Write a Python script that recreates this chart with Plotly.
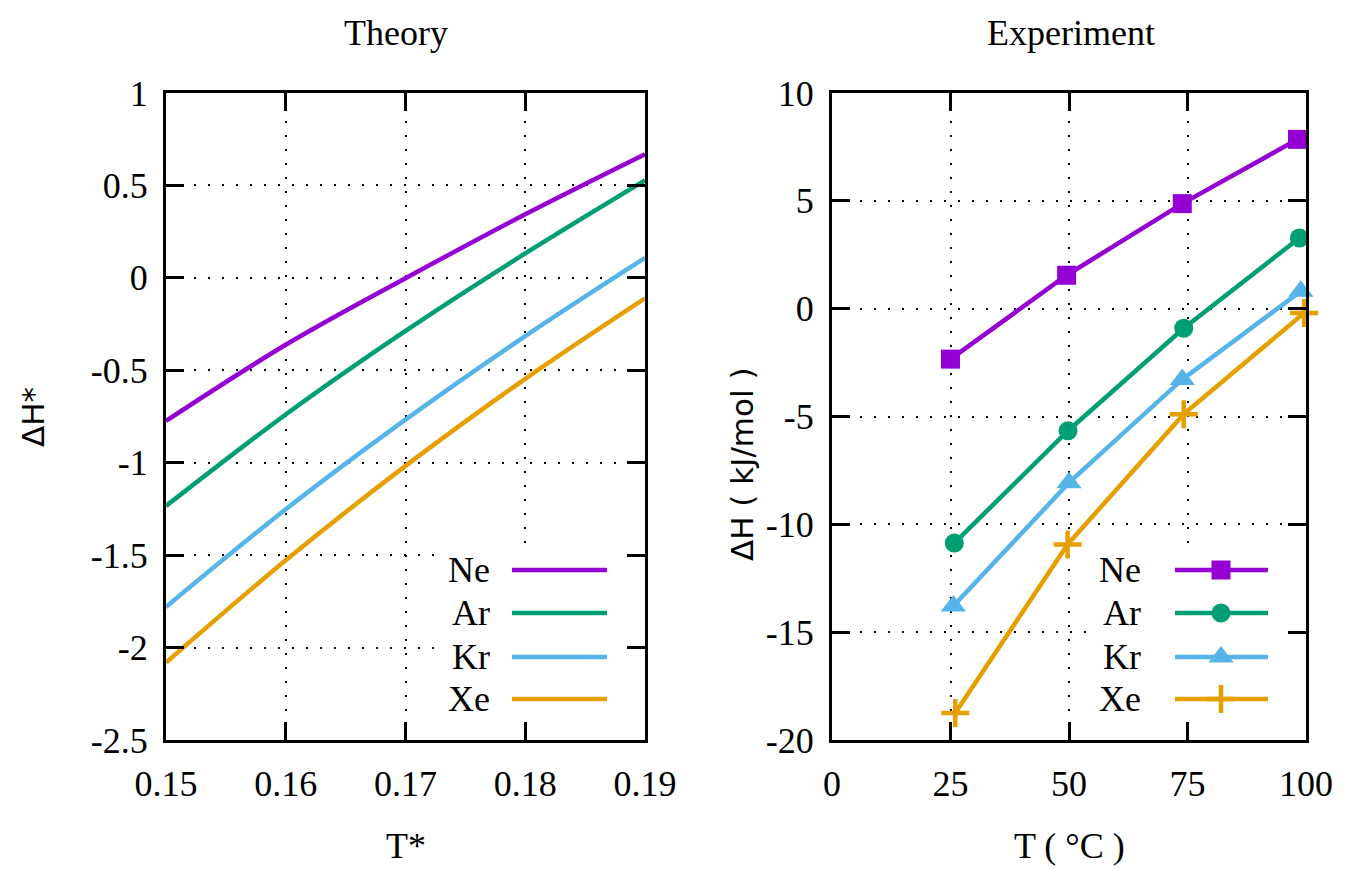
import plotly.graph_objects as go

# ---------------- data ----------------
species = ["Ne", "Ar", "Kr", "Xe"]
colors = ["#9400d3", "#009e73", "#56b4e9", "#e69f00"]
symbols = ["square", "circle", "triangle-up", "cross-thin"]
msizes = [19, 19, 22, 20]

# Theory panel
t_star = [0.15, 0.16, 0.17, 0.18, 0.19]
theory_ne = [-0.774, -0.362, -0.002, 0.344, 0.669]
theory_ar = [-1.234, -0.739, -0.287, 0.132, 0.527]
theory_kr = [-1.780, -1.252, -0.767, -0.315, 0.108]
theory_xe = [-2.081, -1.528, -1.017, -0.546, -0.111]
theory = [theory_ne, theory_ar, theory_kr, theory_xe]

# Experiment panel
exp_t_ne = [25.0, 49.5, 73.9, 98.2]
exp_t_ar = [25.8, 49.8, 74.2, 98.6]
exp_t_kr = [25.6, 50.0, 73.9, 98.9]
exp_t_xe = [26.0, 49.7, 74.2, 99.6]
exp_h_ne = [-2.34, 1.55, 4.87, 7.85]
exp_h_ar = [-10.87, -5.66, -0.91, 3.28]
exp_h_kr = [-13.79, -8.07, -3.28, 0.81]
exp_h_xe = [-18.75, -10.93, -4.89, -0.20]
exp_t = [exp_t_ne, exp_t_ar, exp_t_kr, exp_t_xe]
exp_h = [exp_h_ne, exp_h_ar, exp_h_kr, exp_h_xe]

# ticks
left_xticks = [0.15, 0.16, 0.17, 0.18, 0.19]
left_xlabels = ["0.15", "0.16", "0.17", "0.18", "0.19"]
left_yticks = [-2.5, -2, -1.5, -1, -0.5, 0, 0.5, 1]
left_ylabels = ["-2.5", "-2", "-1.5", "-1", "-0.5", "0", "0.5", "1"]
right_xticks = [0, 25, 50, 75, 100]
right_xlabels = ["0", "25", "50", "75", "100"]
right_yticks = [-20, -15, -10, -5, 0, 5, 10]
right_ylabels = ["-20", "-15", "-10", "-5", "0", "5", "10"]

# ---------------- layout geometry (window pixels) ----------------
OFF = 8                      # page body margin
WIN_W, WIN_H = 1345, 869
FW, FH = WIN_W - OFF, WIN_H - OFF
L_X0, L_X1 = 166, 645
R_X0, R_X1 = 832, 1306
Y_TOP, Y_BOT = 93, 740

def px(x):
    return (x - OFF) / FW

def py(y):
    return 1 - (y - OFF) / FH

SERIF = "Liberation Serif"
SANS = "DejaVu Sans"
FS = 36

fig = go.Figure()

# theory curves
for name, col, ys in zip(species, colors, theory):
    fig.add_trace(go.Scatter(
        x=t_star, y=ys, mode="lines", name=name,
        line=dict(color=col, width=4.5, shape="spline", smoothing=1.0),
        xaxis="x", yaxis="y", showlegend=False))

# experiment curves
for name, col, sym, ms, xs, ys in zip(species, colors, symbols, msizes, exp_t, exp_h):
    fig.add_trace(go.Scatter(
        x=xs, y=ys, mode="lines+markers", name=name,
        line=dict(color=col, width=4.5),
        marker=dict(symbol=sym, size=ms, color=col,
                    line=dict(color=col, width=4.5 if sym == "cross-thin" else 0)),
        xaxis="x2", yaxis="y2", showlegend=False, cliponaxis=False))

# custom gnuplot-style keys (text left of sample) on a hidden window-pixel axis
key_rows = [570, 613, 657, 699]
left_key = dict(text_right=492, l0=512, l1=607)
right_key = dict(text_right=1143, l0=1175, l1=1268, mid=1221)

for name, col, row in zip(species, colors, key_rows):
    fig.add_trace(go.Scatter(
        x=[left_key["l0"], left_key["l1"]], y=[row, row], mode="lines",
        line=dict(color=col, width=4.5), xaxis="x3", yaxis="y3", showlegend=False,
        hoverinfo="skip"))
for name, col, sym, ms, row in zip(species, colors, symbols, msizes, key_rows):
    fig.add_trace(go.Scatter(
        x=[right_key["l0"], right_key["l1"]], y=[row, row], mode="lines",
        line=dict(color=col, width=4.5), xaxis="x3", yaxis="y3", showlegend=False,
        hoverinfo="skip"))
    fig.add_trace(go.Scatter(
        x=[right_key["mid"]], y=[row], mode="markers",
        marker=dict(symbol=sym, size=ms, color=col,
                    line=dict(color=col, width=4.5 if sym == "cross-thin" else 0)),
        xaxis="x3", yaxis="y3", showlegend=False, hoverinfo="skip"))

annotations = []
for name, row in zip(species, key_rows):
    for xr in (left_key["text_right"], right_key["text_right"]):
        annotations.append(dict(
            text=name, x=px(xr), y=py(row), xref="paper", yref="paper",
            xanchor="right", yanchor="middle", showarrow=False,
            font=dict(family=SERIF, size=FS, color="black")))

# titles
annotations += [
    dict(text="Theory", x=px(396), y=py(33), xref="paper", yref="paper",
         xanchor="center", yanchor="middle", showarrow=False,
         font=dict(family=SERIF, size=FS, color="black")),
    dict(text="Experiment", x=px(1071), y=py(33), xref="paper", yref="paper",
         xanchor="center", yanchor="middle", showarrow=False,
         font=dict(family=SERIF, size=FS, color="black")),
    dict(text="T*", x=px(406), y=py(846), xref="paper", yref="paper",
         xanchor="center", yanchor="middle", showarrow=False,
         font=dict(family=SERIF, size=FS, color="black")),
    dict(text="T ( °C )", x=px(1069), y=py(846), xref="paper", yref="paper",
         xanchor="center", yanchor="middle", showarrow=False,
         font=dict(family=SERIF, size=FS, color="black")),
    dict(text="ΔH*", x=px(33), y=py(417), xref="paper", yref="paper",
         xanchor="center", yanchor="middle", showarrow=False, textangle=-90,
         font=dict(family=SANS, size=31, color="black")),
    dict(text="ΔH ( kJ/mol )", x=px(742), y=py(464), xref="paper", yref="paper",
         xanchor="center", yanchor="middle", showarrow=False, textangle=-90,
         font=dict(family=SANS, size=31, color="black")),
]

# white key boxes hiding the grid
shapes = [
    dict(type="rect", xref="x3", yref="y3", x0=440, x1=622, y0=549, y1=720,
         fillcolor="white", line=dict(width=0), layer="below"),
    dict(type="rect", xref="x3", yref="y3", x0=1087, x1=1285, y0=549, y1=720,
         fillcolor="white", line=dict(width=0), layer="below"),
]

axis_common = dict(
    showline=True, linecolor="black", linewidth=3, mirror="ticks",
    ticks="inside", ticklen=18, tickwidth=3, tickcolor="black",
    showgrid=True, gridcolor="black", gridwidth=2, griddash="2px,12px",
    zeroline=False, tickfont=dict(family=SERIF, size=FS, color="black"),
    tickmode="array", fixedrange=True, automargin=False,
)

fig.update_layout(
    width=FW, height=FH, autosize=False,
    margin=dict(l=0, r=0, t=0, b=0, pad=0, autoexpand=False),
    paper_bgcolor="white", plot_bgcolor="rgba(0,0,0,0)",
    showlegend=False,
    xaxis=dict(axis_common, domain=[px(L_X0), px(L_X1)], range=[0.15, 0.19],
               tickvals=left_xticks, ticktext=left_xlabels, anchor="y",
               ticklabelstandoff=10),
    yaxis=dict(axis_common, domain=[py(Y_BOT), py(Y_TOP)], range=[-2.5, 1],
               tickvals=left_yticks, ticktext=left_ylabels, anchor="x",
               ticklabelstandoff=8),
    xaxis2=dict(axis_common, domain=[px(R_X0), px(R_X1)], range=[0, 100],
                tickvals=right_xticks, ticktext=right_xlabels, anchor="y2",
                ticklabelstandoff=10),
    yaxis2=dict(axis_common, domain=[py(Y_BOT), py(Y_TOP)], range=[-20, 10],
                tickvals=right_yticks, ticktext=right_ylabels, anchor="x2",
                ticklabelstandoff=8),
    xaxis3=dict(domain=[0, 1], range=[OFF, OFF + FW], visible=False, anchor="y3",
                fixedrange=True, automargin=False),
    yaxis3=dict(domain=[0, 1], range=[OFF + FH, OFF], visible=False, anchor="x3",
                fixedrange=True, automargin=False),
    annotations=annotations,
    shapes=shapes,
)

fig.write_html("out.html")
